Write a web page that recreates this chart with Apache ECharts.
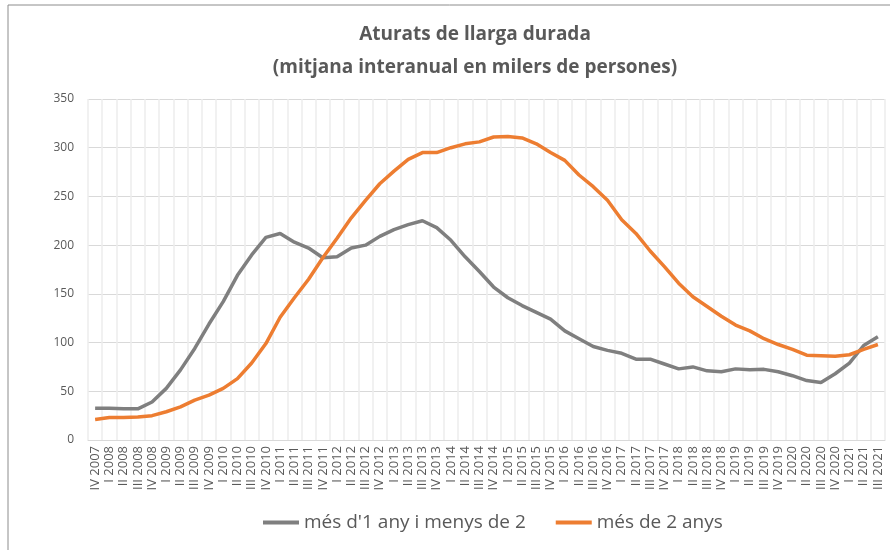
<!DOCTYPE html>
<html>
<head>
<meta charset="utf-8">
<script src="https://cdn.jsdelivr.net/npm/echarts@6/dist/echarts.min.js"></script>
<style>
  html, body { margin: 0; padding: 0; background: #fff; }
  #chart { width: 890px; height: 550px; }
</style>
</head>
<body>
<div id="chart"></div>
<script>
// quarters IV 2007 .. III 2021
const quarters = [
  "IV 2007",
  "I 2008", "II 2008", "III 2008", "IV 2008",
  "I 2009", "II 2009", "III 2009", "IV 2009",
  "I 2010", "II 2010", "III 2010", "IV 2010",
  "I 2011", "II 2011", "III 2011", "IV 2011",
  "I 2012", "II 2012", "III 2012", "IV 2012",
  "I 2013", "II 2013", "III 2013", "IV 2013",
  "I 2014", "II 2014", "III 2014", "IV 2014",
  "I 2015", "II 2015", "III 2015", "IV 2015",
  "I 2016", "II 2016", "III 2016", "IV 2016",
  "I 2017", "II 2017", "III 2017", "IV 2017",
  "I 2018", "II 2018", "III 2018", "IV 2018",
  "I 2019", "II 2019", "III 2019", "IV 2019",
  "I 2020", "II 2020", "III 2020", "IV 2020",
  "I 2021", "II 2021", "III 2021",
];

// més d'1 any i menys de 2
const entre1i2 = [
  32.5, 32.5, 32, 32, 39, 53, 72, 94, 119, 142, 169, 190, 208,
  212, 203, 197, 187, 188, 197, 200, 209, 216, 221, 225, 218,
  205, 188, 173, 157, 146, 138, 131, 124, 112, 104, 96, 92,
  89, 83, 83, 78, 73, 75, 71, 70, 73, 72, 72.5, 70,
  66, 61, 59, 68, 79, 97, 106,
];

// més de 2 anys
const mesDe2 = [
  21, 23, 23, 23.5, 25, 29, 34, 41, 46, 53, 63, 79, 99,
  126, 146, 165, 187, 207, 228, 246, 263, 276, 288, 295, 295,
  300, 304, 306, 311, 311.5, 310, 304, 295, 287, 272, 260, 246,
  226, 212, 194, 178, 161, 147, 137, 127, 118, 112, 104, 98,
  93, 87, 86.5, 86, 87.5, 93, 98,
];

const yTicks = { min: 0, max: 350, interval: 50 };

const chart = echarts.init(document.getElementById("chart"));

chart.setOption({
  animation: false,
  color: ["#7f7f7f", "#ed7d31"],
  title: {
    text: "Aturats de llarga durada\n(mitjana interanual en milers de persones)",
    left: 470,
    top: 13,
    textAlign: "center",
    textStyle: {
      color: "#595959",
      fontSize: 19,
      fontWeight: "bold",
      fontFamily: "Open Sans",
      lineHeight: 33,
    },
  },
  legend: {
    bottom: 13,
    left: 258,
    itemWidth: 36,
    itemHeight: 4,
    itemGap: 30,
    icon: "rect",
    textStyle: { color: "#595959", fontSize: 19, fontFamily: "Open Sans" },
    data: ["més d'1 any i menys de 2", "més de 2 anys"],
  },
  grid: {
    left: 88,
    right: 5,
    top: 99,
    bottom: 110,
  },
  xAxis: {
    type: "category",
    data: quarters,
    boundaryGap: true,
    axisLine: { lineStyle: { color: "#d9d9d9", width: 1 } },
    axisTick: { show: false },
    axisLabel: {
      interval: 0,
      rotate: 90,
      color: "#595959",
      fontSize: 13,
      fontFamily: "Open Sans",
      margin: 6,
    },
    splitLine: {
      show: true,
      interval: 0,
      lineStyle: { color: "#ececec", width: 1.5 },
    },
  },
  yAxis: {
    type: "value",
    min: yTicks.min,
    max: yTicks.max,
    interval: yTicks.interval,
    axisLine: { show: false },
    axisTick: { show: false },
    axisLabel: {
      color: "#595959",
      fontSize: 12,
      fontFamily: "Open Sans",
      margin: 14,
    },
    splitLine: { lineStyle: { color: "#d9d9d9", width: 1 } },
  },
  graphic: [
    {
      type: "rect",
      shape: { x: 8, y: 5, width: 900, height: 560 },
      style: { fill: "none", stroke: "#8c8c8c", lineWidth: 1 },
      silent: true,
    },
  ],
  series: [
    {
      name: "més d'1 any i menys de 2",
      type: "line",
      data: entre1i2,
      symbol: "none",
      lineStyle: { width: 3.5, color: "#7f7f7f" },
    },
    {
      name: "més de 2 anys",
      type: "line",
      data: mesDe2,
      symbol: "none",
      lineStyle: { width: 3.5, color: "#ed7d31" },
    },
  ],
});
</script>
</body>
</html>
